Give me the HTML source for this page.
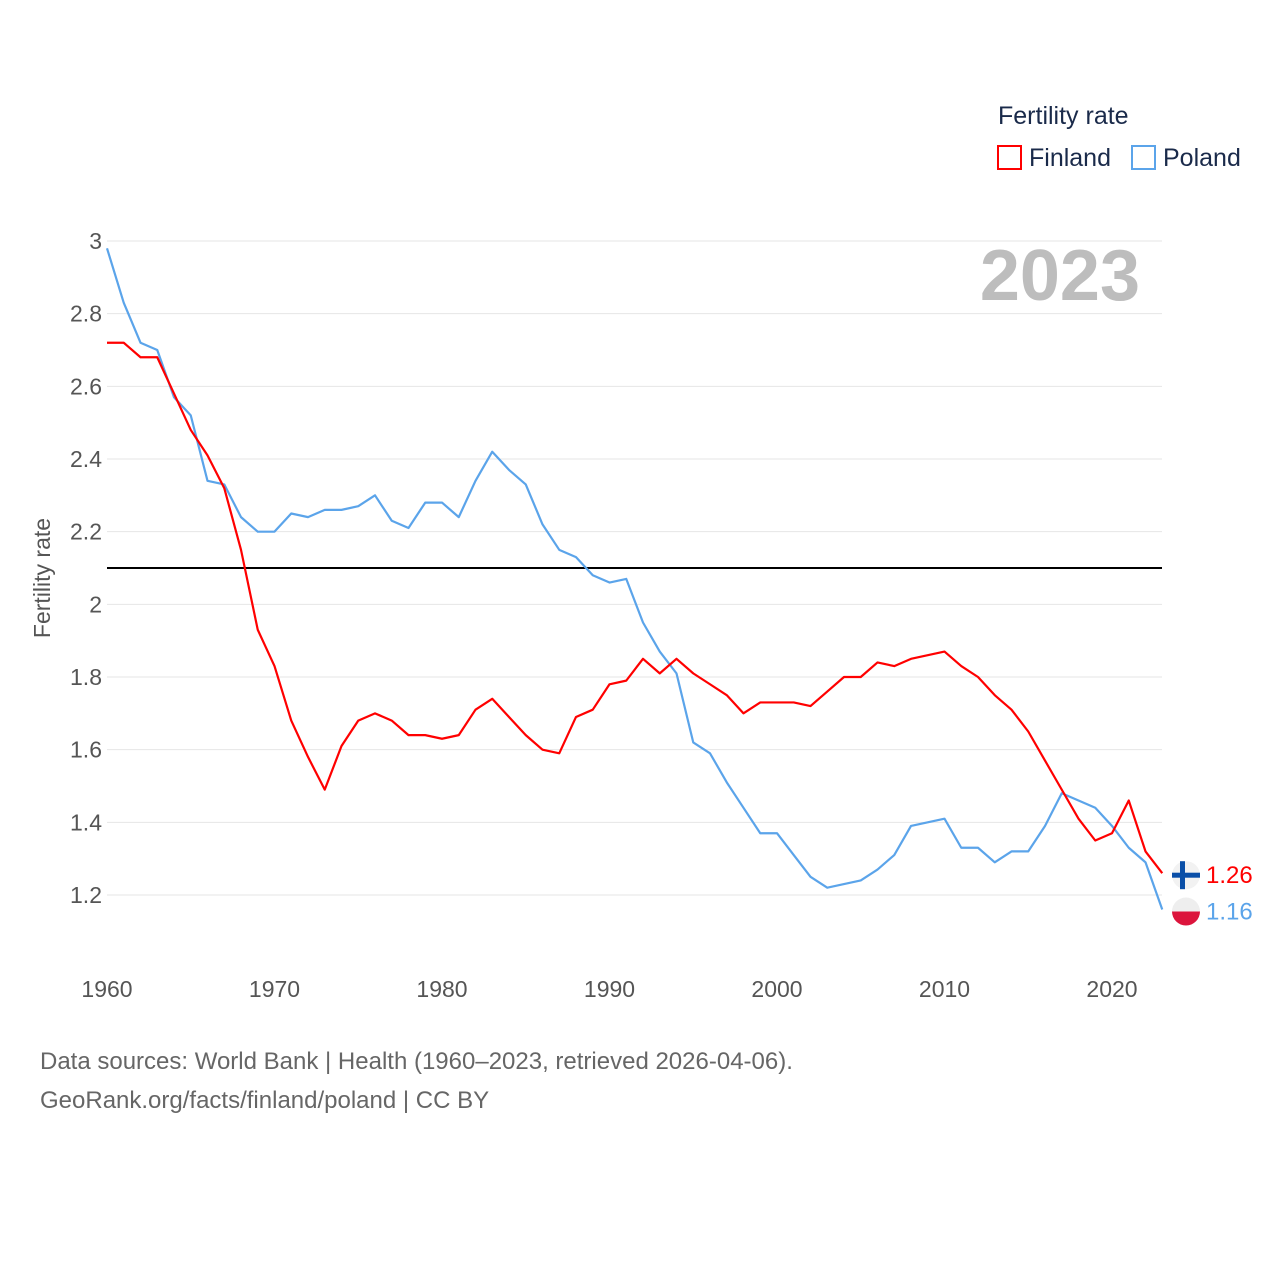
<!DOCTYPE html>
<html><head><meta charset="utf-8"><style>
body{margin:0;background:#fff;font-family:"Liberation Sans",sans-serif;}
svg text{font-family:"Liberation Sans",sans-serif;}
</style></head><body>
<svg id="chart" width="1280" height="1280" xmlns="http://www.w3.org/2000/svg">
<text x="998" y="124" font-size="25" fill="#1a2a4a">Fertility rate</text>
<rect x="998" y="146" width="23" height="23" fill="none" stroke="#f00" stroke-width="2"/>
<text x="1029" y="166" font-size="25" fill="#1a2a4a">Finland</text>
<rect x="1132" y="146" width="23" height="23" fill="none" stroke="#5ba4ea" stroke-width="2"/>
<text x="1163" y="166" font-size="25" fill="#1a2a4a">Poland</text>
<text x="1140" y="300" font-size="72" font-weight="bold" fill="#bdbdbd" text-anchor="end">2023</text>
<text transform="translate(50,578) rotate(-90)" font-size="23" fill="#555" text-anchor="middle">Fertility rate</text>
<g id="grid"></g><g id="lines"></g>
<text x="40" y="1069" font-size="24" fill="#666">Data sources: World Bank | Health (1960–2023, retrieved 2026-04-06).</text>
<text x="40" y="1108" font-size="24" fill="#666">GeoRank.org/facts/finland/poland | CC BY</text>
</svg>
<script>
const years=[];for(let y=1960;y<=2023;y++)years.push(y);
const finland=[2.72,2.72,2.68,2.68,2.58,2.48,2.41,2.32,2.15,1.93,1.83,1.68,1.58,1.49,1.61,1.68,1.70,1.68,1.64,1.64,1.63,1.64,1.71,1.74,1.69,1.64,1.60,1.59,1.69,1.71,1.78,1.79,1.85,1.81,1.85,1.81,1.78,1.75,1.70,1.73,1.73,1.73,1.72,1.76,1.80,1.80,1.84,1.83,1.85,1.86,1.87,1.83,1.80,1.75,1.71,1.65,1.57,1.49,1.41,1.35,1.37,1.46,1.32,1.26];
const poland=[2.98,2.83,2.72,2.70,2.57,2.52,2.34,2.33,2.24,2.20,2.20,2.25,2.24,2.26,2.26,2.27,2.30,2.23,2.21,2.28,2.28,2.24,2.34,2.42,2.37,2.33,2.22,2.15,2.13,2.08,2.06,2.07,1.95,1.87,1.81,1.62,1.59,1.51,1.44,1.37,1.37,1.31,1.25,1.22,1.23,1.24,1.27,1.31,1.39,1.40,1.41,1.33,1.33,1.29,1.32,1.32,1.39,1.48,1.46,1.44,1.39,1.33,1.29,1.16];
const yTicks=[1.2,1.4,1.6,1.8,2,2.2,2.4,2.6,2.8,3];
const xTicks=[1960,1970,1980,1990,2000,2010,2020];
const refValue=2.1;
const X=v=>107+(v-1960)*16.75;
const Y=v=>241+(3-v)*363.33;
const NS="http://www.w3.org/2000/svg";
const g=document.getElementById('grid'),L=document.getElementById('lines');
function mk(tag,attrs,parent,text){const e=document.createElementNS(NS,tag);for(const k in attrs)e.setAttribute(k,attrs[k]);if(text!==undefined)e.textContent=text;parent.appendChild(e);return e;}
yTicks.forEach(t=>{
 const l=mk('line',{x1:107,x2:1162,y1:Y(t),y2:Y(t),stroke:'#e6e6e6','stroke-width':1},g);
 
 
 const tx=mk('text',{x:102,y:Y(t)+8,'font-size':23,fill:'#555','text-anchor':'end'},g,String(t));
 
 
});
xTicks.forEach(t=>{
 const tx=mk('text',{x:X(t),y:997,'font-size':23,fill:'#555','text-anchor':'middle'},g,String(t));
 
 
});
const ref=mk('line',{x1:107,x2:1162,y1:Y(refValue),y2:Y(refValue),stroke:'#000','stroke-width':2},L);


function series(vals,color,name){
 const p=mk('polyline',{points:vals.map((v,i)=>X(years[i])+','+Y(v)).join(' '),fill:'none',stroke:color,'stroke-width':2.2,'stroke-linejoin':'round'},L);
 
 
}
series(poland,'#5ba4ea','poland');
series(finland,'#f00','finland');
const fy=Y(finland[finland.length-1]),py=Y(poland[poland.length-1]);
// Finland flag
const ff=mk('g',{},L);


mk('circle',{cx:1186,cy:fy+2,r:14,fill:'#f2f2f2'},ff);
mk('rect',{x:1172,y:fy-0.5,width:28,height:5,fill:'#0a4fa8'},ff);
mk('rect',{x:1180,y:fy-12,width:5,height:28,fill:'#0a4fa8'},ff);
const pf=mk('g',{},L);


mk('path',{d:`M1172 ${py+2} A14 14 0 0 1 1200 ${py+2} Z`,fill:'#eee'},pf);
mk('path',{d:`M1172 ${py+2} A14 14 0 0 0 1200 ${py+2} Z`,fill:'#dc143c'},pf);
const fl=mk('text',{x:1206,y:fy+10,'font-size':24,fill:'#f00'},L,finland[finland.length-1].toFixed(2));


const pl=mk('text',{x:1206,y:py+10,'font-size':24,fill:'#5ba4ea'},L,poland[poland.length-1].toFixed(2));


</script>
</body></html>
